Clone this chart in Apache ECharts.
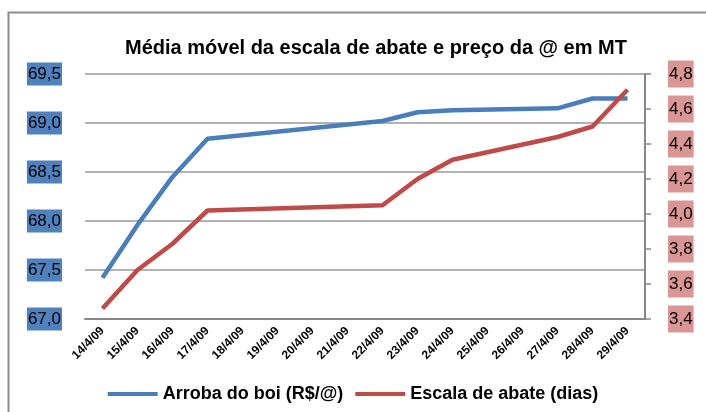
<!DOCTYPE html>
<html>
<head>
<meta charset="utf-8">
<script src="https://cdn.jsdelivr.net/npm/echarts@6/dist/echarts.min.js"></script>
<style>
  html, body { margin: 0; padding: 0; background: #fff; }
  #main { width: 706px; height: 412px; }
</style>
</head>
<body>
<div id="main"></div>
<script>
// datas (dias sem valor ficam null, a linha liga os pontos)
var datas = ['14/4/09', '15/4/09', '16/4/09', '17/4/09', '18/4/09', '19/4/09', '20/4/09', '21/4/09',
  '22/4/09', '23/4/09', '24/4/09', '25/4/09', '26/4/09', '27/4/09', '28/4/09', '29/4/09'];
var arroba = [67.42, 67.96, 68.45, 68.84, null, null, null, null, 69.02, 69.11, 69.13, null, null, 69.15, 69.25, 69.25];
var escala = [3.46, 3.68, 3.83, 4.02, null, null, null, null, 4.05, 4.20, 4.31, null, null, 4.44, 4.50, 4.71];

function virgula(v) {
  return v.toFixed(1).replace('.', ',');
}

var myChart = echarts.init(document.getElementById('main'));
var fonte = 'Liberation Sans, Arial, sans-serif';

var option = {
  animation: false,
  textStyle: { fontFamily: fonte },
  title: {
    text: 'Média móvel da escala de abate e preço da @ em MT',
    left: 371,
    textAlign: 'center',
    top: 33,
    textStyle: { fontSize: 20, fontWeight: 'bold', color: '#000', fontFamily: fonte }
  },
  graphic: [{
    type: 'rect',
    shape: { x: 8.5, y: 12.5, width: 720, height: 420 },
    style: { fill: 'none', stroke: '#8c8c8c', lineWidth: 2 },
    silent: true
  }],
  legend: {
    bottom: 4,
    left: 'center',
    icon: 'rect',
    itemWidth: 50,
    itemHeight: 4,
    itemGap: 12,
    textStyle: { fontSize: 18, fontWeight: 'bold', color: '#000', fontFamily: fonte },
    data: ['Arroba do boi (R$/@)', 'Escala de abate (dias)']
  },
  grid: {
    left: 85,
    right: 61,
    top: 74,
    bottom: 93
  },
  xAxis: {
    type: 'category',
    data: datas,
    boundaryGap: true,
    axisLine: { lineStyle: { color: '#888', width: 2 } },
    axisTick: { show: false },
    axisLabel: {
      rotate: 45,
      interval: 0,
      fontSize: 12,
      fontWeight: 'bold',
      color: '#000',
      margin: 10
    }
  },
  yAxis: [{
    type: 'value',
    min: 67,
    max: 69.5,
    interval: 0.5,
    axisLine: { show: false },
    axisTick: { show: false },
    splitLine: { lineStyle: { color: '#999', width: 1.5 } },
    axisLabel: {
      formatter: virgula,
      fontSize: 17,
      color: '#000',
      backgroundColor: '#4f81bd',
      padding: [4, 1, 2, 1],
      margin: 23
    }
  }, {
    type: 'value',
    min: 3.4,
    max: 4.8,
    interval: 0.2,
    position: 'right',
    axisLine: { show: true, lineStyle: { color: '#888', width: 2 } },
    axisTick: { show: true, length: 6, lineStyle: { color: '#888', width: 1.5 } },
    splitLine: { show: false },
    axisLabel: {
      formatter: virgula,
      fontSize: 17,
      color: '#000',
      backgroundColor: '#d99694',
      padding: [6, 1, 4, 1],
      margin: 23
    }
  }],
  series: [
    {
      name: 'Arroba do boi (R$/@)',
      type: 'line',
      yAxisIndex: 0,
      data: arroba,
      connectNulls: true,
      symbol: 'none',
      lineStyle: { color: '#4a7ebb', width: 4.5 },
      itemStyle: { color: '#4a7ebb' }
    },
    {
      name: 'Escala de abate (dias)',
      type: 'line',
      yAxisIndex: 1,
      data: escala,
      connectNulls: true,
      symbol: 'none',
      lineStyle: { color: '#be4b48', width: 4.5 },
      itemStyle: { color: '#be4b48' }
    }
  ]
};

myChart.setOption(option);
</script>
</body>
</html>
